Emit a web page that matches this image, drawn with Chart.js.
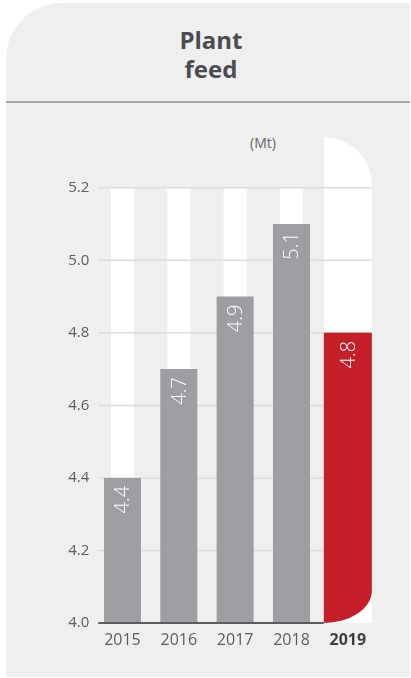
<!DOCTYPE html>
<html>
<head>
<meta charset="utf-8">
<script src="https://cdn.jsdelivr.net/npm/chart.js@4.4.1/dist/chart.umd.min.js"></script>
<style>
  html, body { margin: 0; padding: 0; background: #ffffff; }
  body { width: 411px; height: 678px; position: relative; overflow: hidden; font-family: "Open Sans", "DejaVu Sans", sans-serif; }
  .card { position: absolute; left: 6px; top: 3px; width: 404px; height: 674px; background: #efefef; border-top-left-radius: 56px; }
  .title { position: absolute; left: 6px; top: 25px; width: 404px; padding-left: 6px; box-sizing: border-box; text-align: center;
           font-weight: 700; font-size: 24px; line-height: 29px; color: #4b4b50; }
  .rule { position: absolute; left: 6px; top: 101px; width: 404px; height: 2px; background: #a9a9a9; }
  .unit { position: absolute; left: 233px; top: 134px; width: 60px; text-align: center; font-size: 14px; line-height: 18px; color: #666668; }
  canvas { position: absolute; left: 0; top: 0; }
</style>
</head>
<body>
<div class="card"></div>
<div class="title">Plant<br>feed</div>
<div class="rule"></div>
<div class="unit">(Mt)</div>
<canvas id="chart" width="411" height="678"></canvas>
<script>
// Plant feed, million tonnes per year
const years = ['2015', '2016', '2017', '2018', '2019'];
const plantFeed = [4.4, 4.7, 4.9, 5.1, 4.8];
const highlightYear = '2019';
const yTicks = [4.0, 4.2, 4.4, 4.6, 4.8, 5.0, 5.2];
const panelTop = 5.34; // backdrop of the current year rises above the last tick

const hi = years.indexOf(highlightYear);
const pastValues = plantFeed.map((v, i) => (i === hi ? null : v));
const currentValues = plantFeed.map((v, i) => (i === hi ? v : null));
const stripeRanges = years.map((_, i) => (i === hi ? null : [yTicks[0], yTicks[yTicks.length - 1]]));
const panelRange = years.map((_, i) => (i === hi ? [yTicks[0], panelTop] : null));

const GRAY = '#9d9ea2';
const RED = '#c41f28';

// Column with one elliptical corner ('tr' = top right, 'br' = bottom right)
function cornerColumn(ctx, left, right, top, bottom, corner, ryFactor) {
  const w = right - left;
  const rx = w, ry = w * ryFactor;
  ctx.beginPath();
  if (corner === 'tr') {
    ctx.moveTo(left, bottom);
    ctx.lineTo(left, top);
    ctx.ellipse(right - rx, top + ry, rx, ry, 0, -Math.PI / 2, 0);
    ctx.lineTo(right, bottom);
  } else {
    ctx.moveTo(left, top);
    ctx.lineTo(right, top);
    ctx.lineTo(right, bottom - ry);
    ctx.ellipse(right - rx, bottom - ry, rx, ry, 0, 0, Math.PI / 2);
    ctx.lineTo(left, top);
  }
  ctx.closePath();
  ctx.fill();
}

function drawGrid(chart) {
  // grid lines sit over the white stripes but under the bars
  const ctx = chart.ctx;
  const ys = chart.scales.y;
  const left = chart.chartArea.left + 4;
  const panelEl = chart.getDatasetMeta(1).data[hi];
  const right = panelEl.x + panelEl.width / 2;
  ctx.save();
  ctx.strokeStyle = '#dcdcdc';
  ctx.lineWidth = 1.5;
  yTicks.slice(1).forEach(v => {
    const py = ys.getPixelForValue(v);
    ctx.beginPath();
    ctx.moveTo(left, py);
    ctx.lineTo(right, py);
    ctx.stroke();
  });
  ctx.restore();
}

const chartDecor = {
  id: 'chartDecor',
  beforeDatasetDraw(chart, args) {
    const ds = chart.data.datasets[args.index];
    if (!ds.corner) return;
    const ctx = chart.ctx;
    ctx.save();
    ctx.fillStyle = ds.backgroundColor;
    args.meta.data.forEach((el, i) => {
      if (ds.data[i] == null) return;
      const p = el.getProps(['x', 'y', 'base', 'width'], true);
      const top = Math.min(p.y, p.base), bottom = Math.max(p.y, p.base);
      cornerColumn(ctx, p.x - p.width / 2, p.x + p.width / 2, top, bottom, ds.corner, ds.cornerRy);
    });
    ctx.restore();
    if (args.index === 1) drawGrid(chart);
    return false;
  },
  afterDatasetsDraw(chart) {
    const ctx = chart.ctx;
    const ys = chart.scales.y;

    // axis base line, running up to the current-year bar
    const curEl = chart.getDatasetMeta(3).data[hi];
    const py = ys.getPixelForValue(yTicks[0]);
    ctx.save();
    ctx.strokeStyle = '#5b5b5f';
    ctx.lineWidth = 2;
    ctx.beginPath();
    ctx.moveTo(chart.chartArea.left + 4, py);
    ctx.lineTo(curEl.x - curEl.width / 2, py);
    ctx.stroke();
    ctx.restore();

    // value labels inside the bars
    [2, 3].forEach(di => {
      const ds = chart.data.datasets[di];
      chart.getDatasetMeta(di).data.forEach((el, i) => {
        const v = ds.data[i];
        if (v == null) return;
        ctx.save();
        ctx.translate(el.x, el.y + 8);
        ctx.rotate(-Math.PI / 2);
        ctx.fillStyle = '#ffffff';
        ctx.font = '300 20px "Open Sans", "DejaVu Sans", sans-serif';
        ctx.textAlign = 'right';
        ctx.textBaseline = 'middle';
        ctx.fillText(v.toFixed(1), 0, 1);
        ctx.restore();
      });
    });
  }
};

new Chart(document.getElementById('chart'), {
  type: 'bar',
  data: {
    labels: years,
    datasets: [
      { data: stripeRanges, backgroundColor: '#ffffff', barPercentage: 0.41, order: 4 },
      { data: panelRange, backgroundColor: '#ffffff', barPercentage: 0.853, order: 3, corner: 'tr', cornerRy: 1.0 },
      { data: pastValues, backgroundColor: GRAY, barPercentage: 0.657, order: 2, base: yTicks[0] },
      { data: currentValues, backgroundColor: RED, barPercentage: 0.853, order: 1, base: yTicks[0], corner: 'br', cornerRy: 0.67 }
    ]
  },
  options: {
    responsive: false,
    animation: false,
    datasets: { bar: { grouped: false, categoryPercentage: 1, borderWidth: 0 } },
    layout: { padding: { top: 137, right: 35, bottom: 0, left: 0 } },
    plugins: { legend: { display: false }, tooltip: { enabled: false } },
    scales: {
      x: {
        grid: { display: false, drawTicks: false },
        border: { display: false },
        afterFit: s => { s.height = 55; },
        ticks: {
          padding: 8,
          color: c => (years[c.index] === highlightYear ? '#3f3f43' : '#5d5d61'),
          font: c => ({ family: '"Open Sans", "DejaVu Sans", sans-serif', size: 16,
                        weight: years[c.index] === highlightYear ? 'bold' : 'normal' })
        }
      },
      y: {
        min: yTicks[0],
        max: panelTop,
        grid: { display: false, drawTicks: false },
        border: { display: false },
        afterBuildTicks: s => { s.ticks = yTicks.map(v => ({ value: v })); },
        afterFit: s => { s.width = 94.3; },
        ticks: {
          padding: 5,
          color: '#5d5d61',
          font: { family: '"Open Sans", "DejaVu Sans", sans-serif', size: 15 },
          callback: v => Number(v).toFixed(1)
        }
      }
    }
  },
  plugins: [chartDecor]
});
</script>
</body>
</html>
